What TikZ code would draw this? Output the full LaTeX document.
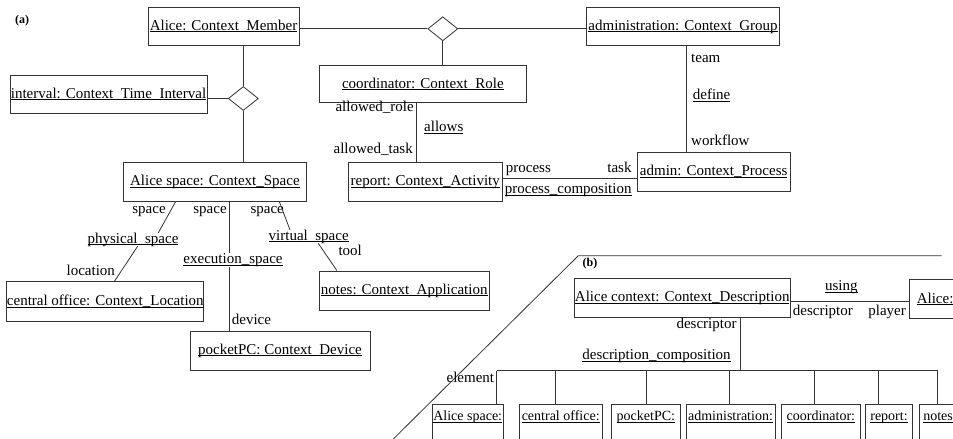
\documentclass[tikz,border=0pt]{standalone}
\usepackage{fontspec}
\setmainfont{Liberation Serif}
\usetikzlibrary{shapes.geometric}
\newlength\ulwd
\newcommand\ult[1]{\settowidth{\ulwd}{#1}\rlap{#1}\rule[-2pt]{\ulwd}{0.8pt}}
\newcommand\fsz{\fontsize{15}{18}\selectfont}
\newcommand\fszb{\fontsize{14}{16}\selectfont}
\begin{document}
\begin{tikzpicture}[x=1pt,y=-1pt,
  obj/.style={draw=black!80, line width=1pt, inner sep=0pt, font=\fsz},
  bobj/.style={draw=black!80, line width=1pt, inner sep=0pt, font=\fszb, anchor=north, text height=16pt, text depth=30pt, minimum height=46pt},
  lab/.style={inner sep=0pt, font=\fsz, text height=10pt, text depth=3pt},
  conn/.style={draw=black!80, line width=0.8pt},
  dia/.style={diamond, draw=black!80, line width=0.8pt, minimum width=30pt, minimum height=24pt, inner sep=0pt},
  tag/.style={inner sep=0pt, font=\fontsize{12}{14}\selectfont\bfseries}]
\useasboundingbox (0,0) rectangle (953,439);
\clip (0,0) rectangle (953,439);
\fill[white] (0,0) rectangle (953,439);

% ---------- (a) ----------
\node[tag] (la) at (22,21) {(a)};
\node[obj, minimum width=151pt, minimum height=38pt] (alice) at (223.5,26) {\ult{Alice: Context\_Member}};
\node[obj, minimum width=197pt, minimum height=38pt] (interval) at (108.5,94) {\ult{interval: Context\_Time\_Interval}};
\node[obj, minimum width=207.7pt, minimum height=37.7pt] (coord) at (422.9,84) {\ult{coordinator: Context\_Role}};
\node[obj, minimum width=192.6pt, minimum height=38.4pt] (group) at (683,26.5) {\ult{administration: Context\_Group}};
\node[obj, minimum width=154pt, minimum height=39pt] (report) at (425.3,182.2) {\ult{report: Context\_Activity}};
\node[obj, minimum width=152.7pt, minimum height=38.7pt] (process) at (713.7,171.7) {\ult{admin: Context\_Process}};
\node[obj, minimum width=182.3pt, minimum height=38.7pt] (space) at (214.9,181.7) {\ult{Alice space: Context\_Space}};
\node[obj, minimum width=196pt, minimum height=40pt] (location) at (105.3,301.7) {\ult{central office: Context\_Location}};
\node[obj, minimum width=180pt, minimum height=39pt] (device) at (280,350.5) {\ult{pocketPC: Context\_Device}};
\node[obj, minimum width=170.3pt, minimum height=39pt] (app) at (404.2,290.5) {\ult{notes: Context\_Application}};

\node[dia] (D1) at (243.3,98.5) {};
\node[dia] (D2) at (442.8,28.8) {};

\draw[conn] (alice.east |- D2.west) -- (D2.west);
\draw[conn] (D2.east) -- (group.west |- D2.east);
\draw[conn] (D2.south) -- (D2.south |- coord.north);
\draw[conn] (D1.north |- alice.south) -- (D1.north);
\draw[conn] (interval.east |- D1.west) -- (D1.west);
\draw[conn] (D1.south) -- (D1.south |- space.north);

\coordinate (cr) at ([xshift=-8.8pt]report.north);
\draw[conn] (cr) -- (cr |- coord.south);
\coordinate (rp) at ([yshift=4.2pt]report.east);
\draw[conn] (rp) -- (rp -| process.west);
\coordinate (gp) at ([xshift=3pt]group.south);
\draw[conn] (gp) -- (gp |- process.north);

\node[lab, anchor=east] (lar) at (414,108) {allowed\_role};
\node[lab, anchor=west] (lal) at (424,128) {\ult{allows}};
\node[lab, anchor=east] (lat) at (413,150) {allowed\_task};
\node[lab, anchor=west] (lteam) at (691,59) {team};
\node[lab, anchor=west] (ldef) at (692.7,96) {\ult{define}};
\node[lab, anchor=west] (lwf) at (691,141.7) {workflow};
\node[lab, anchor=west] (lproc) at (505.7,169.3) {process};
\node[lab, anchor=east] (ltask) at (631.7,169) {task};
\node[lab, anchor=east] (lpc) at (631.7,190) {\ult{process\_composition}};

\node[lab] (phys) at (133,239.5) {\ult{physical\_space}};
\node[lab] (lsp1) at (149,210) {space};
\node[lab] (lloc) at (90.8,271.7) {location};
\node[lab] (exec) at (233,260) {\ult{execution\_space}};
\node[lab] (lsp2) at (210,210) {space};
\node[lab, anchor=west] (ldev) at (231.7,320.7) {device};
\node[lab] (virt) at (308.7,236.7) {\ult{virtual\_space}};
\node[lab] (lsp3) at (267.2,210) {space};
\node[lab, anchor=west] (ltool) at (338.3,251.7) {tool};

\draw[conn] ([xshift=-39.2pt]space.south) -- ([xshift=25.3pt]phys.north);
\draw[conn] ([xshift=4.7pt]phys.south) -- ([xshift=9.2pt]location.north);
\coordinate (ex) at ([xshift=14.4pt]space.south);
\draw[conn] (ex) -- (ex |- exec.north);
\draw[conn] (ex |- exec.south) -- (ex |- device.north);
\draw[conn] ([xshift=64.4pt]space.south) -- ([xshift=-18.7pt]virt.north);
\draw[conn] ([xshift=9.6pt]virt.south) -- ([xshift=18.3pt]app.north west);

% ---------- (b) ----------
\draw[conn] (391.3,441) -- (578.3,255.7) -- (941.7,255.7);
\node[tag] (lb) at (590,264) {(b)};
\node[obj, minimum width=215.7pt, minimum height=39.4pt] (ctx) at (682.2,298) {\ult{Alice context: Context\_Description}};
\node[obj, minimum width=151pt, minimum height=39pt, text width=136pt, align=left] (aliceB) at (984.8,298.8) {\ult{Alice:}};
\node[lab] (lusing) at (841.3,287.3) {\ult{using}};
\coordinate (cu) at ([yshift=-3pt]ctx.east);
\draw[conn] (cu) -- (cu -| aliceB.west);
\node[lab, anchor=west] (ld1) at (792.7,311.7) {descriptor};
\node[lab, anchor=east] (lpl) at (906,311.7) {player};
\node[lab, anchor=east] (ld2) at (736.7,325) {descriptor};
\node[lab] (ldc) at (656.5,356) {\ult{description\_composition}};

\coordinate (busL) at (496.7,370.5);
\coordinate (busR) at (937.7,370.5);
\coordinate (cv) at ([xshift=57.8pt]ctx.south);
\draw[conn] (cv) -- (cv |- busL);
\draw[conn] (busL) -- (busR);

\node[bobj, minimum width=71pt] (bAS) at (467.7,404.3) {\ult{Alice space:}};
\node[bobj, minimum width=83.3pt] (bCO) at (560.7,404.3) {\ult{central office:}};
\node[bobj, minimum width=69.7pt] (bPC) at (645.9,404.3) {\ult{pocketPC:}};
\node[bobj, minimum width=89pt] (bAD) at (730.5,404.3) {\ult{administration:}};
\node[bobj, minimum width=78.3pt] (bCR) at (820.9,404.3) {\ult{coordinator:}};
\node[bobj, minimum width=46.6pt] (bRP) at (889,404.3) {\ult{report:}};
\node[bobj, minimum width=60pt, text width=52pt, align=left] (bNT) at (949.3,404.3) {\ult{notes}};
\node[lab, anchor=east] (lel) at (494.3,378.7) {element};

\foreach \b/\s in {bAS/29, bCO/-5, bPC/0, bAD/-1.2, bCR/-6.6, bRP/-10.7, bNT/-11.6}{
  \coordinate (t) at ([xshift=\s pt]\b.north);
  \draw[conn] (t) -- (t |- busL);
}
\end{tikzpicture}
\end{document}
